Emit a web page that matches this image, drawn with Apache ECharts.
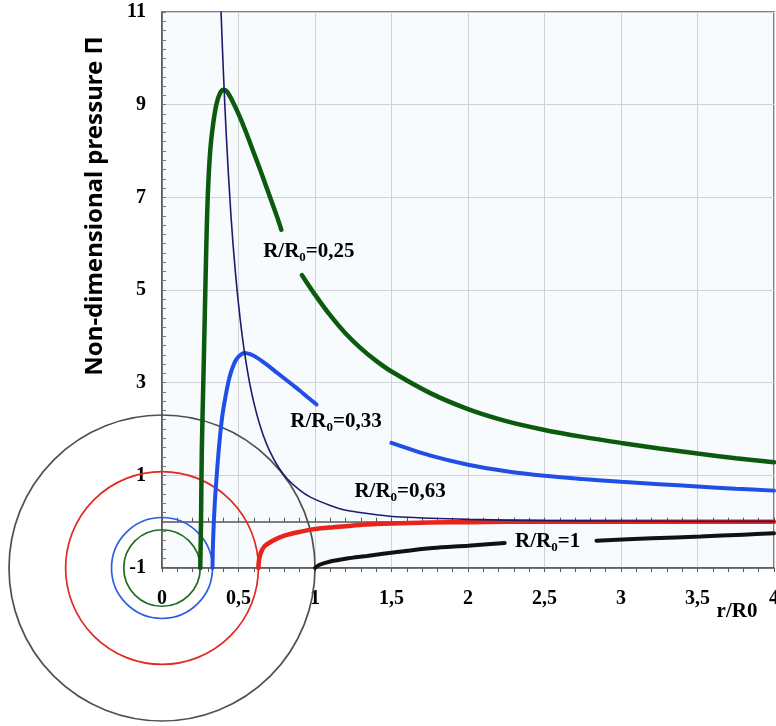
<!DOCTYPE html>
<html>
<head>
<meta charset="utf-8">
<script src="https://cdn.jsdelivr.net/npm/echarts@6/dist/echarts.min.js"></script>
<style>
  html, body { margin: 0; padding: 0; background: #fff; }
  #main { width: 776px; height: 726px; }
</style>
</head>
<body>
<div id="main"></div>
<script>
// tick values (x axis uses a comma as decimal separator)
var xTicks = [0, 0.5, 1, 1.5, 2, 2.5, 3, 3.5, 4];
var yTicks = [-1, 1, 3, 5, 7, 9, 11];

// R/R0 = 0,25 (green), broken where its label sits
var green1 = [[0.25,-1],[0.255,0],[0.26,1.5],[0.27,3],[0.28,4.5],[0.29,6],[0.30,7.1],[0.315,8],
  [0.333,8.55],[0.355,9.0],[0.38,9.25],[0.405,9.32],[0.425,9.28],[0.46,9.08],[0.5,8.8],[0.55,8.4],
  [0.6,7.96],[0.65,7.52],[0.7,7.06],[0.75,6.6],[0.78,6.3]];
var green2 = [[0.915,5.32],[1.0,4.9],[1.1,4.45],[1.2,4.06],[1.3,3.74],[1.4,3.47],[1.5,3.24],[1.75,2.78],
  [2,2.43],[2.25,2.17],[2.5,1.98],[2.75,1.83],[3,1.70],[3.25,1.58],[3.5,1.47],[3.75,1.37],[4,1.28]];

// R/R0 = 0,33 (blue)
var blue1 = [[0.33,-1],[0.334,-0.4],[0.345,0.4],[0.36,1.1],[0.375,1.7],[0.395,2.3],[0.415,2.7],
  [0.44,3.1],[0.47,3.4],[0.5,3.56],[0.54,3.64],[0.58,3.61],[0.62,3.54],[0.66,3.45],[0.7,3.35],
  [0.75,3.22],[0.8,3.09],[0.85,2.96],[0.9,2.83],[0.95,2.69],[1.01,2.53]];
var blue2 = [[1.5,1.70],[1.75,1.43],[2,1.23],[2.25,1.09],[2.5,0.99],[2.75,0.92],[3,0.86],[3.25,0.81],
  [3.5,0.76],[3.75,0.71],[4,0.67]];

// R/R0 = 0,63 (red)
var red1 = [[0.63,-1],[0.633,-0.85],[0.645,-0.68],[0.67,-0.53],[0.73,-0.4],[0.8,-0.3],[0.9,-0.22],
  [1.0,-0.16],[1.12,-0.12],[1.29,-0.07],[1.5,-0.04],[1.75,-0.02],[2,-0.01],[2.5,0],[3,0],[4,0]];

// R/R0 = 1 (black)
var black1 = [[1,-1],[1.03,-0.93],[1.1,-0.86],[1.2,-0.8],[1.34,-0.74],[1.55,-0.65],[1.77,-0.57],
  [2,-0.52],[2.24,-0.46]];
var black2 = [[2.84,-0.41],[3.2,-0.36],[3.52,-0.32],[3.8,-0.28],[4,-0.25]];

// thin navy envelope through the peaks
var envelope = [[0.386,11],[0.40,9.8],[0.42,8.35],[0.45,6.64],[0.48,5.37],[0.51,4.4],[0.54,3.64],
  [0.58,2.87],[0.62,2.31],[0.66,1.88],[0.7,1.55],[0.76,1.18],[0.82,0.92],[0.9,0.68],[0.97,0.53],
  [1.1,0.35],[1.21,0.24],[1.4,0.15],[1.56,0.1],[2,0.05],[2.5,0.023],[3,0.013],[4,0.006]];

// circles of radius R/R0 around (0, -1)
var circleRadii = [1, 0.63, 0.33, 0.25];
var circleColors = ['#505050', '#e3291f', '#2b5fe0', '#1f6e1f'];

// curve labels
var labelTexts = ['0,25', '0,33', '0,63', '1'];
var labelAnchors = [[0.96,5.82],[1.137,2.15],[1.556,0.64],[2.52,-0.44]];

var chart = echarts.init(document.getElementById('main'), null, { renderer: 'canvas' });

function lineSeries(data, color, width) {
  return {
    type: 'line',
    data: data,
    xAxisIndex: 0,
    yAxisIndex: 0,
    showSymbol: false,
    symbol: 'none',
    smooth: 0.3,
    clip: false,
    z: 4,
    lineStyle: { color: color, width: width, cap: 'round' },
    silent: true
  };
}

var zeroAxis = function (inside) {
  return {
    type: 'value',
    min: 0,
    max: 4,
    interval: 0.5,
    position: 'bottom',
    axisLine: { show: true, onZero: true, lineStyle: { color: '#555', width: 1.5 } },
    axisTick: { show: true, inside: inside, length: 4, lineStyle: { color: '#555' } },
    minorTick: { show: true, splitNumber: 5, length: 4, lineStyle: { color: '#555' } },
    axisLabel: { show: false },
    splitLine: { show: false }
  };
};

var option = {
  backgroundColor: '#ffffff',
  animation: false,
  grid: {
    left: 162,
    top: 12,
    right: 2,
    bottom: 158,
    show: true,
    backgroundColor: '#f8fbfd',
    borderColor: '#555',
    borderWidth: 1.5,
    outerBoundsMode: 'none'
  },
  xAxis: [{
    type: 'value',
    min: xTicks[0],
    max: xTicks[xTicks.length - 1],
    interval: 0.5,
    position: 'bottom',
    axisLine: { show: false, onZero: false },
    axisTick: { show: false },
    splitLine: { show: true, lineStyle: { color: '#cfd3d6', width: 1 } },
    axisLabel: {
      margin: 21,
      fontSize: 20,
      fontFamily: 'Liberation Serif',
      fontWeight: 'bold',
      color: '#000',
      formatter: function (v) { return String(v).replace('.', ','); }
    }
  }, zeroAxis(true), zeroAxis(false)],
  yAxis: {
    type: 'value',
    min: yTicks[0],
    max: yTicks[yTicks.length - 1],
    interval: 2,
    axisLine: { show: true, onZero: false, lineStyle: { color: '#555', width: 1.5 } },
    axisTick: { show: true, inside: true, length: 4, lineStyle: { color: '#777' } },
    minorTick: { show: true, splitNumber: 10, length: 4, lineStyle: { color: '#777' } },
    splitLine: { show: true, lineStyle: { color: '#cfd3d6', width: 1 } },
    axisLabel: {
      margin: 16,
      fontSize: 20,
      fontFamily: 'Liberation Serif',
      fontWeight: 'bold',
      color: '#000'
    }
  },
  graphic: [{
    type: 'text',
    x: 95,
    y: 206,
    rotation: Math.PI / 2,
    style: {
      text: 'Non-dimensional pressure \u03A0',
      fontFamily: 'Noto Sans',
      fontWeight: 'bold',
      fontSize: 24,
      fill: '#000',
      align: 'center',
      verticalAlign: 'middle'
    }
  }, {
    type: 'text',
    x: 737,
    y: 612,
    style: {
      text: 'r/R0',
      fontFamily: 'Liberation Serif',
      fontWeight: 'bold',
      fontSize: 21,
      fill: '#000',
      align: 'center',
      verticalAlign: 'middle'
    }
  }],
  series: [
    {
      type: 'custom',
      xAxisIndex: 0,
      yAxisIndex: 0,
      clip: false,
      silent: true,
      z: 3,
      data: circleRadii.map(function (r) { return [0, -1, r]; }),
      renderItem: function (params, api) {
        var c = api.coord([api.value(0), api.value(1)]);
        var r = api.size([api.value(2), 0])[0];
        return {
          type: 'circle',
          shape: { cx: c[0], cy: c[1], r: r },
          style: { fill: 'none', stroke: circleColors[params.dataIndex], lineWidth: 1.7 }
        };
      }
    },
    lineSeries(black1, '#111111', 4),
    lineSeries(black2, '#111111', 4),
    lineSeries(red1, '#e8231a', 4.5),
    lineSeries(blue1, '#1f4fe6', 4),
    lineSeries(blue2, '#1f4fe6', 4),
    lineSeries(green1, '#0b5a0e', 4.5),
    lineSeries(green2, '#0b5a0e', 4.5),
    lineSeries(envelope, '#1c1c6e', 1.6),
    {
      // scatter defaults to opacity 0.8, which also greys the labels
      type: 'scatter',
      xAxisIndex: 0,
      yAxisIndex: 0,
      symbolSize: 1,
      itemStyle: { color: 'rgba(255,255,255,0)', opacity: 1 },
      silent: true,
      z: 6,
      data: labelAnchors,
      label: {
        show: true,
        position: 'inside',
        color: '#000',
        textBorderWidth: 0,
        formatter: function (p) {
          return '{a|R/R}{s|0}{a|=' + labelTexts[p.dataIndex] + '}';
        },
        rich: {
          a: { fontFamily: 'Liberation Serif', fontWeight: 'bold', fontSize: 21, color: '#000', lineHeight: 24, textBorderWidth: 0 },
          s: { fontFamily: 'Liberation Serif', fontWeight: 'bold', fontSize: 13, color: '#000', padding: [11, 0, 0, 0], lineHeight: 24, textBorderWidth: 0 }
        }
      }
    }
  ]
};

chart.setOption(option);
</script>
</body>
</html>
